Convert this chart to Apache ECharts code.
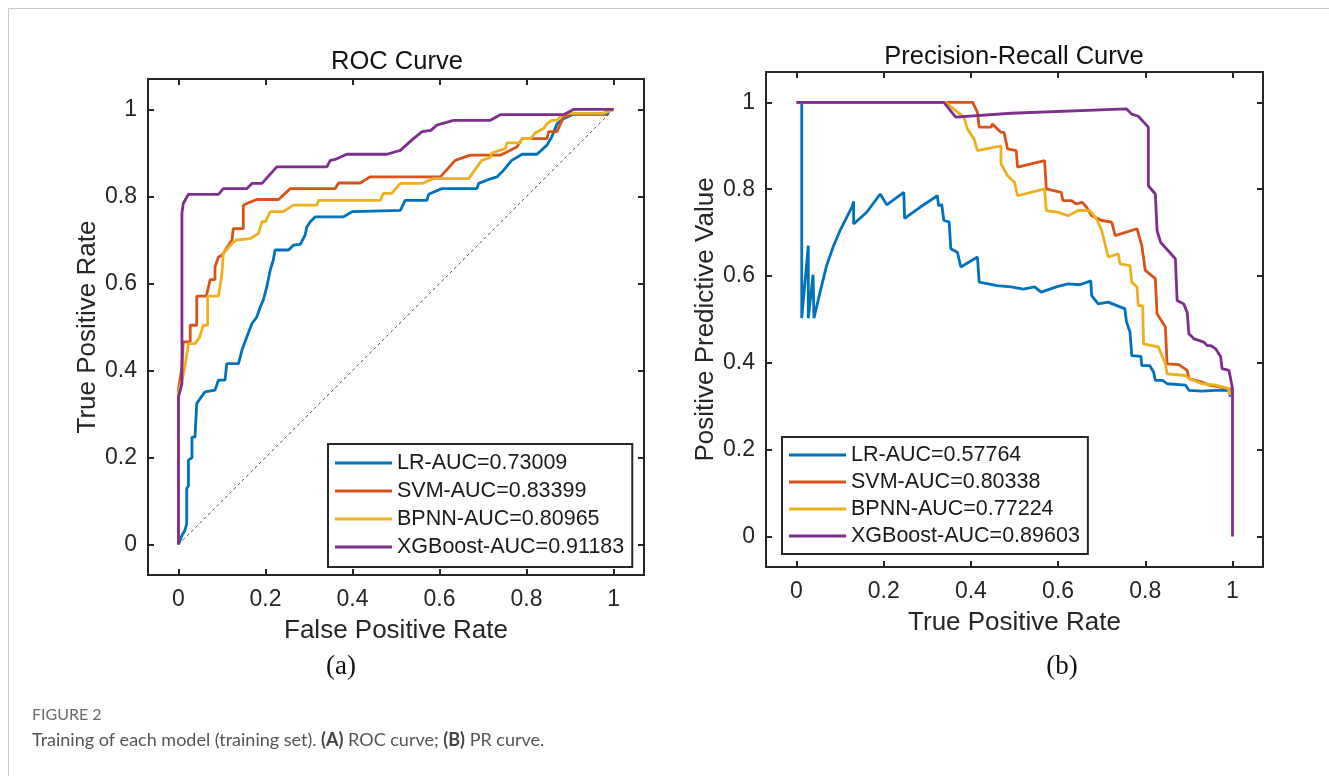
<!DOCTYPE html>
<html>
<head>
<meta charset="utf-8">
<script src="https://cdn.jsdelivr.net/npm/echarts@6/dist/echarts.min.js"></script>
<style>
  html, body { margin: 0; padding: 0; background: #fff; }
  #chart { width: 1329px; height: 776px; }
</style>
</head>
<body>
<div id="chart"></div>
<script>
// tick values shared by both panels
const tickValues = [0, 0.2, 0.4, 0.6, 0.8, 1];

// legend names
const rocNames = ['LR-AUC=0.73009', 'SVM-AUC=0.83399', 'BPNN-AUC=0.80965', 'XGBoost-AUC=0.91183'];
const prNames = ['LR-AUC=0.57764', 'SVM-AUC=0.80338', 'BPNN-AUC=0.77224', 'XGBoost-AUC=0.89603'];

// ROC curves (false positive rate, true positive rate)
const rocLR = [[0,0],[0.008,0.021],[0.015,0.033],[0.019,0.048],[0.019,0.129],[0.023,0.135],[0.023,0.194],[0.031,0.2],[0.031,0.247],[0.038,0.247],[0.042,0.324],[0.05,0.336],[0.061,0.351],[0.084,0.355],[0.092,0.378],[0.107,0.378],[0.111,0.416],[0.138,0.416],[0.146,0.447],[0.157,0.477],[0.169,0.508],[0.18,0.523],[0.188,0.546],[0.195,0.562],[0.203,0.592],[0.211,0.631],[0.218,0.654],[0.222,0.677],[0.253,0.677],[0.264,0.688],[0.28,0.69],[0.291,0.711],[0.295,0.73],[0.303,0.742],[0.314,0.753],[0.379,0.753],[0.399,0.765],[0.51,0.768],[0.521,0.791],[0.571,0.791],[0.575,0.805],[0.605,0.818],[0.686,0.818],[0.69,0.83],[0.71,0.838],[0.732,0.845],[0.747,0.86],[0.766,0.883],[0.79,0.897],[0.824,0.897],[0.847,0.918],[0.858,0.937],[0.87,0.967],[0.885,0.979],[0.908,0.989],[0.985,0.989],[0.991,0.998],[1,1]];
const rocSVM = [[0,0],[0,0.355],[0.008,0.408],[0.011,0.466],[0.027,0.466],[0.027,0.504],[0.042,0.504],[0.042,0.571],[0.064,0.571],[0.073,0.609],[0.084,0.609],[0.084,0.638],[0.092,0.661],[0.1,0.665],[0.123,0.7],[0.126,0.726],[0.149,0.726],[0.149,0.78],[0.16,0.785],[0.18,0.793],[0.23,0.793],[0.257,0.818],[0.36,0.818],[0.368,0.831],[0.418,0.831],[0.44,0.845],[0.602,0.845],[0.636,0.883],[0.671,0.895],[0.74,0.895],[0.763,0.906],[0.778,0.914],[0.79,0.933],[0.847,0.933],[0.851,0.949],[0.87,0.949],[0.885,0.983],[0.908,0.991],[0.977,0.991],[0.996,1],[1,1]];
const rocBPNN = [[0,0],[0,0.35],[0.01,0.385],[0.015,0.41],[0.023,0.462],[0.038,0.462],[0.048,0.475],[0.057,0.504],[0.067,0.504],[0.067,0.571],[0.092,0.571],[0.1,0.623],[0.103,0.669],[0.123,0.692],[0.134,0.7],[0.165,0.703],[0.184,0.715],[0.192,0.742],[0.2,0.742],[0.211,0.765],[0.241,0.765],[0.264,0.78],[0.318,0.78],[0.322,0.791],[0.464,0.791],[0.471,0.807],[0.49,0.807],[0.51,0.83],[0.56,0.83],[0.586,0.841],[0.667,0.841],[0.697,0.883],[0.717,0.89],[0.72,0.9],[0.751,0.91],[0.755,0.923],[0.785,0.923],[0.79,0.933],[0.81,0.933],[0.82,0.946],[0.839,0.956],[0.845,0.965],[0.858,0.975],[0.87,0.975],[0.877,0.983],[0.893,0.991],[0.977,0.991],[1,1]];
const rocXGB = [[0,0],[0,0.339],[0.008,0.37],[0.008,0.761],[0.011,0.784],[0.023,0.805],[0.092,0.805],[0.103,0.818],[0.157,0.818],[0.169,0.83],[0.192,0.83],[0.226,0.868],[0.341,0.868],[0.349,0.883],[0.36,0.885],[0.387,0.897],[0.479,0.897],[0.51,0.906],[0.54,0.933],[0.56,0.949],[0.58,0.952],[0.594,0.964],[0.632,0.975],[0.717,0.975],[0.74,0.988],[0.885,0.988],[0.908,1],[1,1]];
const rocChance = [[0,0],[1,1]];

// PR curves (recall, precision)
const prLR = [[0.012,1],[0.012,0.503],[0.027,0.67],[0.027,0.503],[0.038,0.603],[0.04,0.503],[0.054,0.563],[0.069,0.624],[0.085,0.67],[0.1,0.705],[0.115,0.735],[0.127,0.759],[0.131,0.772],[0.131,0.72],[0.161,0.747],[0.192,0.789],[0.207,0.764],[0.246,0.793],[0.248,0.733],[0.284,0.759],[0.323,0.785],[0.326,0.762],[0.333,0.765],[0.338,0.728],[0.35,0.725],[0.354,0.663],[0.369,0.655],[0.377,0.621],[0.415,0.644],[0.419,0.586],[0.44,0.582],[0.46,0.578],[0.492,0.575],[0.52,0.57],[0.546,0.575],[0.561,0.563],[0.596,0.575],[0.623,0.582],[0.65,0.58],[0.675,0.589],[0.677,0.555],[0.692,0.536],[0.715,0.54],[0.742,0.529],[0.753,0.525],[0.757,0.494],[0.765,0.471],[0.769,0.417],[0.79,0.415],[0.792,0.394],[0.81,0.394],[0.819,0.379],[0.823,0.36],[0.84,0.36],[0.85,0.352],[0.892,0.349],[0.9,0.337],[0.93,0.335],[0.961,0.337],[0.992,0.337],[0.995,0.322]];
const prSVM = [[0,1],[0.404,1],[0.415,0.977],[0.419,0.943],[0.446,0.943],[0.449,0.95],[0.469,0.931],[0.476,0.931],[0.484,0.893],[0.504,0.889],[0.507,0.851],[0.569,0.866],[0.573,0.801],[0.607,0.793],[0.611,0.774],[0.63,0.774],[0.642,0.766],[0.655,0.77],[0.665,0.759],[0.677,0.739],[0.7,0.728],[0.723,0.724],[0.731,0.693],[0.781,0.709],[0.792,0.67],[0.8,0.613],[0.823,0.594],[0.827,0.513],[0.846,0.483],[0.85,0.398],[0.877,0.396],[0.896,0.383],[0.9,0.364],[0.93,0.356],[0.946,0.349],[0.992,0.341],[1,0.338]];
const prBPNN = [[0,1],[0.342,1],[0.36,0.985],[0.384,0.966],[0.392,0.939],[0.407,0.916],[0.415,0.889],[0.469,0.9],[0.469,0.859],[0.484,0.831],[0.5,0.816],[0.507,0.785],[0.569,0.801],[0.573,0.751],[0.6,0.747],[0.623,0.739],[0.646,0.751],[0.673,0.751],[0.688,0.732],[0.7,0.705],[0.715,0.644],[0.738,0.651],[0.742,0.628],[0.765,0.624],[0.769,0.586],[0.781,0.575],[0.784,0.532],[0.794,0.532],[0.796,0.444],[0.83,0.437],[0.838,0.417],[0.846,0.398],[0.85,0.375],[0.892,0.371],[0.9,0.364],[0.93,0.352],[0.961,0.349],[0.992,0.341],[0.992,0.329],[1,0.33]];
const prXGB = [[0,1],[0.338,1],[0.365,0.966],[0.492,0.975],[0.757,0.985],[0.769,0.973],[0.784,0.968],[0.807,0.943],[0.807,0.808],[0.823,0.789],[0.827,0.705],[0.835,0.678],[0.869,0.64],[0.873,0.544],[0.888,0.536],[0.896,0.517],[0.9,0.467],[0.911,0.456],[0.934,0.448],[0.942,0.44],[0.95,0.44],[0.961,0.433],[0.973,0.414],[0.976,0.387],[0.992,0.383],[1,0.341],[1,0]];

const colors = ['#0072BD', '#D95319', '#EDB120', '#7E2F8E'];
const font = "'Liberation Sans', Arial, sans-serif";
const axisColor = '#262626';

function makeAxes(grid, kind) {
  // bottom/left with labels, top/right only ticks (matlab box)
  const main = kind === 'x' ? 'bottom' : 'left';
  const other = kind === 'x' ? 'top' : 'right';
  const base = {
    type: 'value', gridIndex: grid, min: -0.07, max: 1.07,
    axisLine: { show: true, onZero: false, lineStyle: { color: axisColor, width: 2 } },
    axisTick: { show: true, inside: true, length: 6, customValues: tickValues, lineStyle: { color: axisColor, width: 2 } },
    splitLine: { show: false }
  };
  return [
    Object.assign({}, base, {
      position: main,
      axisLabel: {
        show: true, customValues: tickValues, color: axisColor, fontSize: 23, fontFamily: font,
        margin: kind === 'x' ? 13 : 11,
        formatter: v => String(v)
      }
    }),
    Object.assign({}, base, { position: other, axisLabel: { show: false } })
  ];
}

function makeSeries(name, data, color, axisBase) {
  return {
    name: name, type: 'line', data: data, color: color,
    xAxisIndex: axisBase, yAxisIndex: axisBase,
    showSymbol: false, symbol: 'none', smooth: false,
    lineStyle: { color: color, width: 2.8 },
    z: 3
  };
}

const xAxes = makeAxes(0, 'x').concat(makeAxes(1, 'x'));
const yAxes = makeAxes(0, 'y').concat(makeAxes(1, 'y'));
xAxes[0].name = 'False Positive Rate';
yAxes[0].name = 'True Positive Rate';
xAxes[2].name = 'True Positive Rate';
yAxes[2].name = 'Positive Predictive Value';
[xAxes[0], xAxes[2]].forEach(a => { a.nameLocation = 'middle'; a.nameGap = 43; a.nameTextStyle = { fontSize: 26, color: axisColor, fontFamily: font }; });
[yAxes[0], yAxes[2]].forEach(a => { a.nameLocation = 'middle'; a.nameGap = 46; a.nameTextStyle = { fontSize: 26, color: axisColor, fontFamily: font }; });

const rocSeries = [rocLR, rocSVM, rocBPNN, rocXGB];
const prSeries = [prLR, prSVM, prBPNN, prXGB];
const series = [];
series.push({
  name: 'chance', type: 'line', data: rocChance, xAxisIndex: 0, yAxisIndex: 0,
  showSymbol: false, symbol: 'none', lineStyle: { color: '#555', width: 1, type: [3, 3] }, z: 2
});
rocSeries.forEach((d, i) => series.push(makeSeries(rocNames[i], d, colors[i], 0)));
prSeries.forEach((d, i) => series.push(makeSeries(prNames[i], d, colors[i], 2)));

const legendBase = {
  orient: 'vertical', icon: 'rect', itemWidth: 57, itemHeight: 3, itemGap: 6,
  selectedMode: false, backgroundColor: '#fff', borderColor: axisColor, borderWidth: 2,
  padding: [8, 8, 9, 7],
  textStyle: { fontSize: 21.5, lineHeight: 21, color: '#1a1a1a', fontFamily: font }
};

const option = {
  animation: false,
  backgroundColor: '#fff',
  grid: [
    { left: 148, top: 79, width: 496, height: 496 },
    { left: 766, top: 72, width: 497, height: 495 }
  ],
  xAxis: xAxes,
  yAxis: yAxes,
  legend: [
    Object.assign({}, legendBase, { data: rocNames, left: 328, top: 444 }),
    Object.assign({}, legendBase, { data: prNames, left: 782, top: 437, itemGap: 5, padding: [7, 8, 7, 7] })
  ],
  series: series,
  graphic: [
    { type: 'rect', silent: true, shape: { x: 8.5, y: 8.5, width: 1400, height: 900 }, style: { fill: 'none', stroke: '#c9c9c9', lineWidth: 1 } },
    { type: 'text', x: 397, y: 62, style: { text: 'ROC Curve', fontSize: 25.5, fontFamily: font, fill: '#111', align: 'center', verticalAlign: 'middle' } },
    { type: 'text', x: 1014, y: 57, style: { text: 'Precision-Recall Curve', fontSize: 25.5, fontFamily: font, fill: '#111', align: 'center', verticalAlign: 'middle' } },
    { type: 'text', x: 341, y: 667, style: { text: '(a)', fontSize: 27, fontFamily: "'Liberation Serif', 'Times New Roman', serif", fill: '#111', align: 'center', verticalAlign: 'middle' } },
    { type: 'text', x: 1062, y: 667, style: { text: '(b)', fontSize: 27, fontFamily: "'Liberation Serif', 'Times New Roman', serif", fill: '#111', align: 'center', verticalAlign: 'middle' } },
    { type: 'text', x: 32, y: 715, style: { text: 'FIGURE 2', fontSize: 16, fontFamily: 'Lato, sans-serif', fill: '#6b6b6b', verticalAlign: 'middle' } },
    { type: 'text', x: 32, y: 740, style: {
        text: '{n|Training of each model (training set). }{b|(A)}{n| ROC curve; }{b|(B)}{n| PR curve.}',
        verticalAlign: 'middle',
        rich: {
          n: { fontSize: 18, fontFamily: 'Lato, sans-serif', fill: '#555' },
          b: { fontSize: 18, fontFamily: 'Lato, sans-serif', fontWeight: 'bold', fill: '#444' }
        }
      } }
  ]
};

const chart = echarts.init(document.getElementById('chart'), null, { renderer: 'canvas' });
chart.setOption(option);
</script>
</body>
</html>
